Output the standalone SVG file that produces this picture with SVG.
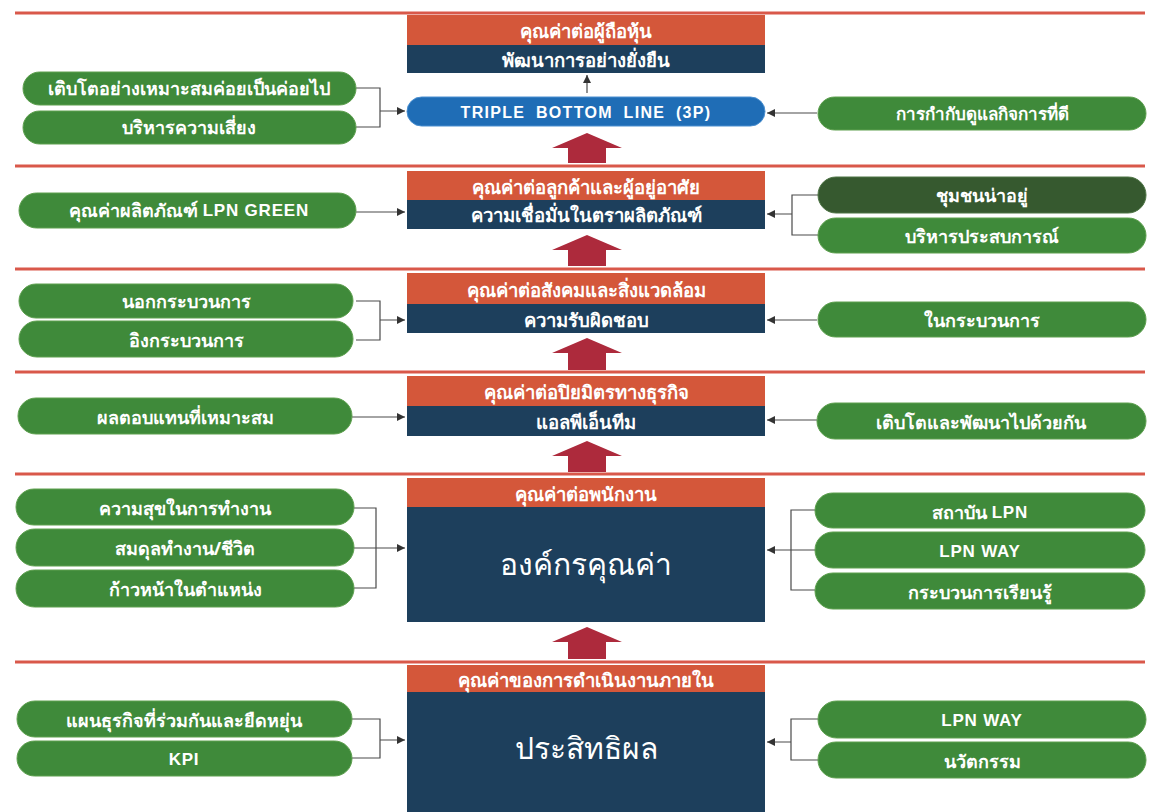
<svg xmlns="http://www.w3.org/2000/svg" width="1150" height="812" viewBox="0 0 1150 812">
<defs>
<style>
.sep{stroke:#d9584a;stroke-width:3}
.hdr{fill:#d4573a}
.nav{fill:#1d3f5c}
.pill{fill:#3f8a3a;stroke:#5ea04f;stroke-width:1}
.dpill{fill:#36592f;stroke:#4d7444;stroke-width:1}
.t{font-family:"Noto Sans","DejaVu Sans","Liberation Sans",sans-serif;font-weight:bold;fill:#ffffff;text-anchor:middle;dominant-baseline:central}
.h{font-size:18.5px}
.p{font-size:18px}
.lat{font-family:"Liberation Sans",Arial,sans-serif;font-size:17px;letter-spacing:0.8px}
.big{font-size:30px;font-weight:normal}
.con{fill:none;stroke:#4a4a4a;stroke-width:1.2}
.up{fill:#ad2a3c}
</style>
<marker id="ah" viewBox="0 0 10 10" refX="10" refY="5" markerWidth="8" markerHeight="8" markerUnits="userSpaceOnUse" orient="auto">
<path d="M0,0 L10,5 L0,10 Z" fill="#333"/>
</marker>
</defs>
<rect width="1150" height="812" fill="#ffffff"/>

<g id="separators">
<line class="sep" x1="15" y1="13" x2="1145" y2="13"/>
<line class="sep" x1="15" y1="166" x2="1145" y2="166"/>
<line class="sep" x1="15" y1="269" x2="1145" y2="269"/>
<line class="sep" x1="15" y1="372" x2="1145" y2="372"/>
<line class="sep" x1="15" y1="474" x2="1145" y2="474"/>
<line class="sep" x1="15" y1="662" x2="1145" y2="662"/>
</g>

<g id="up-arrows">
<path class="up" d="M587,133 L622,148 L606,148 L606,163 L568,163 L568,148 L552,148 Z"/>
<path class="up" d="M587,235 L622,250 L606,250 L606,266 L568,266 L568,250 L552,250 Z"/>
<path class="up" d="M587,338 L622,353 L606,353 L606,370 L568,370 L568,353 L552,353 Z"/>
<path class="up" d="M587,441 L622,456 L606,456 L606,472 L568,472 L568,456 L552,456 Z"/>
<path class="up" d="M587,627 L622,642 L606,642 L606,659 L568,659 L568,642 L552,642 Z"/>
</g>

<g id="connectors">
<line class="con" x1="587" y1="93" x2="587" y2="75" marker-end="url(#ah)"/>
<path class="con" d="M356,88 H380 V127 H356 M380,111 H405" marker-end="url(#ah)"/>
<line class="con" x1="817" y1="113" x2="767" y2="113" marker-end="url(#ah)"/>
<line class="con" x1="356" y1="212" x2="405" y2="212" marker-end="url(#ah)"/>
<path class="con" d="M818,195 H792 V235 H818 M792,214 H767" marker-end="url(#ah)"/>
<path class="con" d="M356,301 H380 V340 H356 M380,320 H405" marker-end="url(#ah)"/>
<line class="con" x1="817" y1="320" x2="767" y2="320" marker-end="url(#ah)"/>
<line class="con" x1="352" y1="417" x2="405" y2="417" marker-end="url(#ah)"/>
<line class="con" x1="817" y1="420" x2="767" y2="420" marker-end="url(#ah)"/>
<path class="con" d="M354,508 H376 V588 H354 M354,548 H405" marker-end="url(#ah)"/>
<path class="con" d="M815,510 H791 V590 H815 M815,550 H767" marker-end="url(#ah)"/>
<path class="con" d="M352,719 H380 V758 H352 M380,740 H405" marker-end="url(#ah)"/>
<path class="con" d="M818,719 H791 V760 H818 M791,742 H767" marker-end="url(#ah)"/>
</g>

<g id="box-shareholder">
<rect class="hdr" x="407" y="15" width="358" height="30"/>
<rect class="nav" x="407" y="45" width="358" height="28"/>
<text class="t h" x="586" y="30">คุณค่าต่อผู้ถือหุ้น</text>
<text class="t h" x="586" y="59">พัฒนาการอย่างยั่งยืน</text>
</g>
<g id="tbl">
<rect x="407" y="97" width="358" height="29" rx="14.5" fill="#1f6db6" stroke="#4a8fd0" stroke-width="1"/>
<text class="t" x="586" y="112" style="font-family:'Liberation Sans',Arial,sans-serif;font-size:16px" letter-spacing="1.3" word-spacing="5">TRIPLE BOTTOM LINE (3P)</text>
</g>
<g id="box-customer">
<rect class="hdr" x="407" y="171" width="358" height="29"/>
<rect class="nav" x="407" y="200" width="358" height="29"/>
<text class="t h" x="586" y="186">คุณค่าต่อลูกค้าและผู้อยู่อาศัย</text>
<text class="t h" x="586" y="214">ความเชื่อมั่นในตราผลิตภัณฑ์</text>
</g>
<g id="box-society">
<rect class="hdr" x="407" y="273" width="358" height="31"/>
<rect class="nav" x="407" y="304" width="358" height="29"/>
<text class="t h" x="586" y="289">คุณค่าต่อสังคมและสิ่งแวดล้อม</text>
<text class="t h" x="586" y="319">ความรับผิดชอบ</text>
</g>
<g id="box-partner">
<rect class="hdr" x="407" y="376" width="358" height="30"/>
<rect class="nav" x="407" y="406" width="358" height="30"/>
<text class="t h" x="586" y="391">คุณค่าต่อปิยมิตรทางธุรกิจ</text>
<text class="t h" x="586" y="421">แอลพีเอ็นทีม</text>
</g>
<g id="box-employee">
<rect class="hdr" x="407" y="478" width="358" height="29"/>
<rect class="nav" x="407" y="507" width="358" height="115"/>
<text class="t h" x="586" y="493">คุณค่าต่อพนักงาน</text>
<text class="t big" x="586" y="563">องค์กรคุณค่า</text>
</g>
<g id="box-internal">
<rect class="hdr" x="407" y="665" width="358" height="27"/>
<rect class="nav" x="407" y="692" width="358" height="120"/>
<text class="t h" x="586" y="679">คุณค่าของการดำเนินงานภายใน</text>
<text class="t big" x="586" y="747">ประสิทธิผล</text>
</g>

<g id="pill-l1"><rect class="pill" x="23" y="72" width="333" height="33" rx="16.5"/><text class="t p" x="189" y="88">เติบโตอย่างเหมาะสมค่อยเป็นค่อยไป</text></g>
<g id="pill-l2"><rect class="pill" x="23" y="111" width="333" height="33" rx="16.5"/><text class="t p" x="189" y="127">บริหารความเสี่ยง</text></g>
<g id="pill-r1"><rect class="pill" x="818" y="97" width="328" height="33" rx="16.5"/><text class="t" style="font-size:17px" x="982" y="113">การกำกับดูแลกิจการที่ดี</text></g>

<g id="pill-l3"><rect class="pill" x="19" y="193" width="337" height="35" rx="17.5"/><text class="t p" x="189" y="210">คุณค่าผลิตภัณฑ์ <tspan class="lat">LPN GREEN</tspan></text></g>
<g id="pill-r2"><rect class="dpill" x="818" y="177" width="328" height="36" rx="18"/><text class="t p" x="982" y="195">ชุมชนน่าอยู่</text></g>
<g id="pill-r3"><rect class="pill" x="818" y="218" width="328" height="35" rx="17.5"/><text class="t p" x="982" y="236">บริหารประสบการณ์</text></g>

<g id="pill-l4"><rect class="pill" x="19" y="284" width="334" height="34" rx="17"/><text class="t p" x="186" y="301">นอกกระบวนการ</text></g>
<g id="pill-l5"><rect class="pill" x="19" y="321" width="334" height="36" rx="18"/><text class="t p" x="186" y="340">อิงกระบวนการ</text></g>
<g id="pill-r4"><rect class="pill" x="818" y="302" width="328" height="35" rx="17.5"/><text class="t p" x="982" y="320">ในกระบวนการ</text></g>

<g id="pill-l6"><rect class="pill" x="18" y="398" width="334" height="36" rx="18"/><text class="t p" x="185" y="417">ผลตอบแทนที่เหมาะสม</text></g>
<g id="pill-r5"><rect class="pill" x="817" y="403" width="329" height="36" rx="18"/><text class="t p" x="981" y="422">เติบโตและพัฒนาไปด้วยกัน</text></g>

<g id="pill-l7"><rect class="pill" x="16" y="489" width="338" height="36" rx="18"/><text class="t p" x="185" y="508">ความสุขในการทำงาน</text></g>
<g id="pill-l8"><rect class="pill" x="16" y="529" width="338" height="37" rx="18.5"/><text class="t p" x="185" y="548">สมดุลทำงาน/ชีวิต</text></g>
<g id="pill-l9"><rect class="pill" x="16" y="570" width="338" height="37" rx="18.5"/><text class="t p" x="185" y="589">ก้าวหน้าในตำแหน่ง</text></g>
<g id="pill-r6"><rect class="pill" x="815" y="493" width="330" height="35" rx="17.5"/><text class="t p" x="980" y="512">สถาบัน <tspan class="lat">LPN</tspan></text></g>
<g id="pill-r7"><rect class="pill" x="815" y="532" width="330" height="36" rx="18"/><text class="t p lat" x="980" y="551">LPN WAY</text></g>
<g id="pill-r8"><rect class="pill" x="815" y="573" width="330" height="36" rx="18"/><text class="t p" x="980" y="592">กระบวนการเรียนรู้</text></g>

<g id="pill-l10"><rect class="pill" x="17" y="701" width="335" height="36" rx="18"/><text class="t p" x="184" y="720">แผนธุรกิจที่ร่วมกันและยืดหยุ่น</text></g>
<g id="pill-l11"><rect class="pill" x="17" y="741" width="335" height="35" rx="17.5"/><text class="t p lat" x="184" y="759">KPI</text></g>
<g id="pill-r9"><rect class="pill" x="818" y="701" width="328" height="37" rx="18.5"/><text class="t p lat" x="982" y="720">LPN WAY</text></g>
<g id="pill-r10"><rect class="pill" x="818" y="742" width="328" height="36" rx="18"/><text class="t p" x="982" y="761">นวัตกรรม</text></g>
</svg>
